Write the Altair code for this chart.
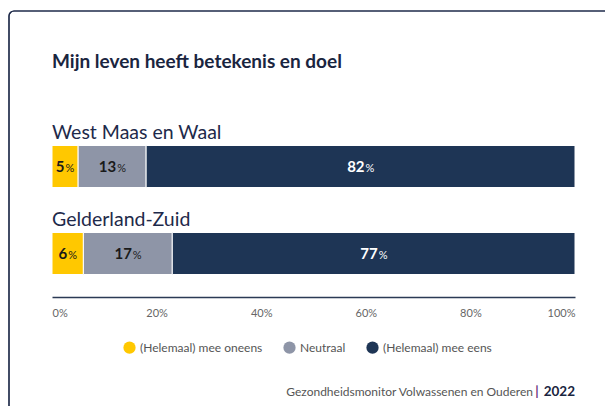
import altair as alt
import pandas as pd

regions = ["West Maas en Waal", "Gelderland-Zuid"]
categories = ["(Helemaal) mee oneens", "Neutraal", "(Helemaal) mee eens"]
colors = ["#FFC800", "#8E95A7", "#1E3555"]
text_colors = ["#1A1A1A", "#1A1A1A", "#FFFFFF"]
values = {
    "West Maas en Waal": [5, 13, 82],
    "Gelderland-Zuid": [6, 17, 77],
}
tick_values = [0, 20, 40, 60, 80, 100]
title_text = "Mijn leven heeft betekenis en doel"
footer_text = "Gezondheidsmonitor Volwassenen en Ouderen"
footer_sep = "|"
footer_year = "2022"

rows = []
for r in regions:
    for i, c in enumerate(categories):
        rows.append({"region": r, "category": c, "value": values[r][i],
                     "order": i, "tcolor": text_colors[i]})
df = pd.DataFrame(rows)

FONT = "Lato"
W, H = 523, 174
PXPER = W / 100.0

y_enc = alt.Y("region:N", sort=regions, axis=None,
              scale=alt.Scale(paddingInner=0, paddingOuter=0))

base = alt.Chart(df).transform_stack(
    stack="value", groupby=["region"], sort=[alt.SortField("order")],
    as_=["v0", "v1"]
).transform_calculate(
    mid="(datum.v0 + datum.v1) / 2",
    n="length(toString(datum.value))",
).transform_calculate(
    anchor=f"datum.mid + (datum.n * 4.5 - 5) / {PXPER}",
    pct="'%'",
)

x_scale = alt.Scale(domain=[0, 100], nice=False, zero=True)

bars = base.mark_bar(size=42, stroke="white", strokeWidth=1).encode(
    x=alt.X("v0:Q", scale=x_scale,
            axis=alt.Axis(values=tick_values, labelExpr="datum.value + '%'",
                          title=None, grid=False, ticks=False, tickSize=0,
                          domainColor="#2B3A55", domainWidth=1.5,
                          labelFont=FONT, labelFontSize=11, labelColor="#666666",
                          labelPadding=10, labelFlush=True)),
    x2="v1:Q",
    y=y_enc,
    color=alt.Color("category:N", sort=categories,
                    scale=alt.Scale(domain=categories, range=colors),
                    legend=alt.Legend(title=None, orient="none", direction="horizontal",
                                      legendX=71, legendY=218,
                                      symbolType="circle", symbolSize=150,
                                      symbolStrokeWidth=0,
                                      labelFont=FONT, labelFontSize=12,
                                      labelColor="#555555", labelOffset=4,
                                      columnPadding=20)),
)

nums = base.mark_text(align="right", baseline="alphabetic", dy=5.5,
                      font=FONT, fontSize=15, fontWeight="bold").encode(
    x=alt.X("anchor:Q", scale=x_scale),
    y=alt.Y("region:N", sort=regions, axis=None, bandPosition=0.5),
    text="value:Q",
    color=alt.Color("tcolor:N", scale=None),
)

pcts = base.mark_text(align="left", baseline="alphabetic", dy=5.5, dx=1,
                      font=FONT, fontSize=11).encode(
    x=alt.X("anchor:Q", scale=x_scale),
    y=alt.Y("region:N", sort=regions, axis=None, bandPosition=0.5),
    text="pct:N",
    color=alt.Color("tcolor:N", scale=None),
)

lab_df = pd.DataFrame({"region": regions})
labels = alt.Chart(lab_df).mark_text(align="left", baseline="alphabetic", dy=-28,
                                     font=FONT, fontSize=19.5, color="#1E2A4A").encode(
    x=alt.value(0),
    y=alt.Y("region:N", sort=regions, axis=None, bandPosition=0.5),
    text="region:N",
)

card = alt.Chart(lab_df).mark_rect(fill=None, stroke="#1E2A4A", strokeWidth=1.2,
                                   cornerRadius=5).encode(
    x=alt.value(-43), x2=alt.value(600), y=alt.value(-112), y2=alt.value(400)
)

title_df = pd.DataFrame({"t": [title_text]})
title = alt.Chart(title_df).mark_text(align="left", baseline="alphabetic", font=FONT,
                                      fontSize=19, fontWeight="bold",
                                      color="#1A2540").encode(
    x=alt.value(0), y=alt.value(-55), text="t:N")

foot_df = pd.DataFrame({"a": [footer_text], "b": [footer_sep], "c": [footer_year]})
foot_a = alt.Chart(foot_df).mark_text(align="right", baseline="middle", font=FONT,
                                      fontSize=12, color="#555555").encode(
    x=alt.value(481), y=alt.value(269), text="a:N")
foot_b = alt.Chart(foot_df).mark_text(align="center", baseline="middle", font=FONT,
                                      fontSize=13, fontWeight="bold",
                                      color="#6B2C7A").encode(
    x=alt.value(485), y=alt.value(269), text="b:N")
foot_c = alt.Chart(foot_df).mark_text(align="right", baseline="middle", font=FONT,
                                      fontSize=13.5, fontWeight="bold",
                                      color="#1A2540").encode(
    x=alt.value(523), y=alt.value(269), text="c:N")

chart = alt.layer(card, title, bars, nums, pcts, labels, foot_a, foot_b, foot_c).properties(
    width=W, height=H,
    autosize=alt.AutoSizeParams(type="none"),
    padding={"left": 44, "top": 115, "right": 30, "bottom": 109},
).configure_view(stroke=None).resolve_scale(color="independent")

chart.save("out.html", embed_options={"renderer": "svg", "actions": False})
